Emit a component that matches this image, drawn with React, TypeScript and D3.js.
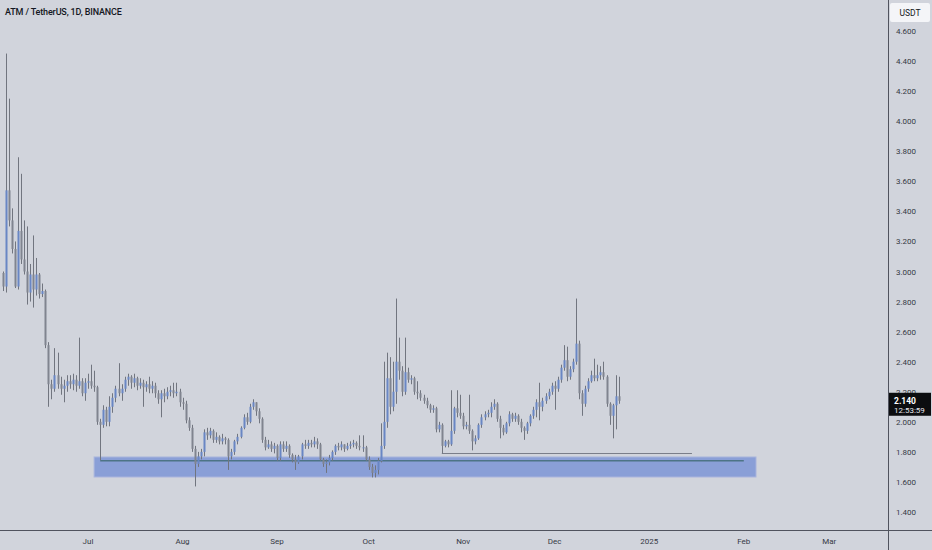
import React, { useEffect, useRef } from 'react';
import * as d3 from 'd3';

// daily candles from 2024-06-03, open = previous close
const startDate = Date.UTC(2024, 5, 3);
const firstOpen = 2.99;

const closes = [
  2.90, 3.54, 3.34, 3.15, 2.90, 3.27, 3.08, 3.00, 2.86, 2.98,
  2.88, 2.98, 2.85, 2.87, 2.51, 2.25, 2.22, 2.31, 2.25, 2.22,
  2.24, 2.27, 2.25, 2.28, 2.24, 2.27, 2.19, 2.26, 2.27, 2.24,
  2.23, 2.00, 1.98, 2.08, 2.00, 2.10, 2.16, 2.22, 2.19, 2.22,
  2.28, 2.30, 2.26, 2.29, 2.24, 2.26, 2.23, 2.25, 2.22, 2.24,
  2.19, 2.15, 2.19, 2.17, 2.20, 2.21, 2.19, 2.20, 2.13, 2.12,
  2.01, 1.96, 1.82, 1.72, 1.77, 1.80, 1.93, 1.91, 1.94, 1.88,
  1.90, 1.87, 1.89, 1.88, 1.77, 1.80, 1.87, 1.90, 1.96, 2.03,
  2.00, 2.10, 2.13, 2.07, 2.02, 1.88, 1.83, 1.85, 1.82, 1.84,
  1.76, 1.85, 1.82, 1.84, 1.78, 1.75, 1.73, 1.77, 1.85, 1.84,
  1.86, 1.85, 1.87, 1.85, 1.75, 1.72, 1.73, 1.76, 1.80, 1.84,
  1.83, 1.85, 1.82, 1.84, 1.85, 1.86, 1.84, 1.83, 1.83, 1.75,
  1.70, 1.66, 1.68, 1.74, 1.84, 2.00, 2.29, 2.10, 2.20, 2.40,
  2.34, 2.20, 2.33, 2.28, 2.29, 2.20, 2.19, 2.16, 2.14, 2.11,
  2.08, 2.09, 1.95, 1.98, 1.84, 1.87, 1.85, 1.94, 2.09, 2.06,
  2.04, 1.97, 1.98, 1.94, 1.87, 1.89, 1.98, 2.03, 2.05, 2.06,
  2.10, 2.12, 2.02, 1.96, 1.93, 1.99, 2.05, 2.02, 2.04, 2.00,
  1.96, 1.94, 1.99, 2.04, 2.08, 2.13, 2.10, 2.14, 2.17, 2.20,
  2.24, 2.22, 2.28, 2.36, 2.41, 2.30, 2.35, 2.40, 2.52, 2.19,
  2.12, 2.22, 2.27, 2.31, 2.29, 2.31, 2.33, 2.30, 2.12, 2.04,
  2.11, 2.17, 2.14,
];

const highs = [
  3.00, 4.45, 4.15, 3.42, 3.20, 3.76, 3.65, 3.34, 3.30, 3.05,
  3.24, 3.09, 2.99, 2.92, 2.88, 2.53, 2.28, 2.49, 2.46, 2.30,
  2.28, 2.31, 2.31, 2.32, 2.31, 2.56, 2.29, 2.29, 2.32, 2.38,
  2.34, 2.24, 2.02, 2.11, 2.10, 2.17, 2.19, 2.24, 2.39, 2.25,
  2.30, 2.32, 2.31, 2.32, 2.30, 2.29, 2.28, 2.27, 2.30, 2.27,
  2.26, 2.21, 2.21, 2.22, 2.23, 2.24, 2.26, 2.26, 2.22, 2.16,
  2.14, 2.03, 1.98, 1.84, 1.80, 1.82, 1.95, 1.96, 1.96, 1.95,
  1.93, 1.91, 1.92, 1.90, 1.89, 1.82, 1.88, 1.92, 1.97, 2.05,
  2.06, 2.12, 2.15, 2.13, 2.09, 2.03, 1.90, 1.88, 1.87, 1.86,
  1.85, 1.87, 1.87, 1.87, 1.85, 1.79, 1.78, 1.78, 1.86, 1.88,
  1.88, 1.88, 1.90, 1.89, 1.86, 1.76, 1.75, 1.78, 1.81, 1.85,
  1.86, 1.87, 1.85, 1.86, 1.87, 1.88, 1.87, 1.91, 1.91, 1.84,
  1.77, 1.72, 1.71, 1.76, 1.99, 2.40, 2.46, 2.43, 2.40, 2.82,
  2.56, 2.37, 2.56, 2.36, 2.31, 2.30, 2.27, 2.21, 2.18, 2.16,
  2.12, 2.11, 2.10, 2.00, 1.99, 1.88, 1.88, 2.21, 2.10, 2.21,
  2.18, 2.06, 2.00, 2.18, 1.95, 1.91, 1.99, 2.05, 2.07, 2.08,
  2.13, 2.15, 2.13, 2.04, 1.98, 2.00, 2.07, 2.06, 2.06, 2.05,
  2.02, 1.97, 2.00, 2.05, 2.10, 2.15, 2.26, 2.16, 2.19, 2.22,
  2.26, 2.27, 2.30, 2.38, 2.51, 2.50, 2.37, 2.42, 2.82, 2.54,
  2.21, 2.24, 2.29, 2.34, 2.42, 2.38, 2.37, 2.40, 2.31, 2.13,
  2.12, 2.31, 2.30,
];

const lows = [
  2.87, 2.86, 3.30, 3.12, 2.89, 2.88, 3.05, 2.98, 2.78, 2.80,
  2.76, 2.84, 2.82, 2.83, 2.49, 2.10, 2.15, 2.20, 2.22, 2.18,
  2.13, 2.20, 2.22, 2.21, 2.20, 2.22, 2.17, 2.14, 2.22, 2.22,
  2.20, 1.98, 1.745, 1.96, 1.97, 1.97, 2.06, 2.13, 2.17, 2.14,
  2.20, 2.24, 2.22, 2.23, 2.21, 2.22, 2.10, 2.20, 2.19, 2.19,
  2.16, 2.12, 2.03, 2.13, 2.15, 2.17, 2.16, 2.17, 2.10, 2.08,
  1.99, 1.94, 1.80, 1.57, 1.70, 1.75, 1.77, 1.88, 1.89, 1.86,
  1.86, 1.85, 1.85, 1.85, 1.68, 1.75, 1.78, 1.85, 1.89, 1.95,
  1.98, 1.99, 2.08, 2.04, 1.99, 1.86, 1.81, 1.82, 1.80, 1.79,
  1.74, 1.74, 1.80, 1.80, 1.76, 1.73, 1.68, 1.72, 1.75, 1.82,
  1.82, 1.83, 1.83, 1.82, 1.74, 1.70, 1.66, 1.71, 1.74, 1.78,
  1.81, 1.81, 1.80, 1.81, 1.82, 1.83, 1.82, 1.81, 1.80, 1.74,
  1.68, 1.63, 1.63, 1.65, 1.73, 1.82, 1.96, 2.05, 2.07, 2.12,
  2.28, 2.17, 2.18, 2.26, 2.25, 2.18, 2.15, 2.14, 2.12, 2.09,
  2.06, 2.06, 1.93, 1.93, 1.79, 1.83, 1.83, 1.84, 1.92, 2.03,
  2.02, 1.95, 1.95, 1.92, 1.81, 1.85, 1.88, 1.96, 2.01, 2.03,
  2.03, 2.08, 2.00, 1.89, 1.91, 1.92, 1.97, 2.00, 2.00, 1.98,
  1.93, 1.88, 1.92, 1.97, 2.02, 2.03, 2.01, 2.07, 2.12, 2.15,
  2.18, 2.08, 2.20, 2.26, 2.34, 2.27, 2.28, 2.33, 2.38, 2.15,
  2.04, 2.10, 2.20, 2.26, 2.27, 2.27, 2.28, 2.28, 2.10, 1.98,
  1.89, 1.95, 2.12,
];

const priceTicks = [1.4, 1.6, 1.8, 2.0, 2.2, 2.4, 2.6, 2.8, 3.0, 3.2, 3.4, 3.6, 3.8, 4.0, 4.2, 4.4, 4.6];
const monthTicks = ['2024-07-01', '2024-08-01', '2024-09-01', '2024-10-01', '2024-11-01', '2024-12-01', '2025-01-01', '2025-02-01', '2025-03-01'];
const monthLabels = ['Jul', 'Aug', 'Sep', 'Oct', 'Nov', 'Dec', '2025', 'Feb', 'Mar'];

// drawings
const zone = { from: '2024-07-03', to: '2025-02-05', low: 1.633, high: 1.766 };
const zoneLine = { from: '2024-07-05', to: '2025-02-01', price: 1.741 };
const lowLine = { from: '2024-10-25', to: '2025-01-15', price: 1.792 };
const lastPrice = 2.14;

const W = 932;
const H = 550;
const plotRight = 888;
const plotBottom = 530;
const font = 'Roboto, "Noto Sans", sans-serif';

const App: React.FC = () => {
  const svgRef = useRef<SVGSVGElement>(null);

  useEffect(() => {
    if (!svgRef.current) return;
    const svg = d3.select(svgRef.current);
    svg.selectAll('*').remove();

    const day = 86400000;
    const candles = closes.map((c, i) => {
      const open = i === 0 ? firstOpen : closes[i - 1];
      return {
        date: new Date(startDate + i * day),
        open,
        close: c,
        high: Math.max(highs[i], open, c),
        low: Math.min(lows[i], open, c),
      };
    });

    const x = d3
      .scaleUtc()
      .domain([new Date(startDate), new Date(Date.UTC(2025, 2, 1))])
      .range([2.6, 829.2]);
    const y = d3.scaleLinear().domain([1.4, 4.6]).range([512, 31]);
    const d = (s: string) => new Date(s + 'T00:00:00Z');

    svg.append('rect').attr('width', W).attr('height', H).attr('fill', '#d1d4dc');

    // zone
    svg
      .append('rect')
      .attr('x', x(d(zone.from)))
      .attr('y', y(zone.high))
      .attr('width', x(d(zone.to)) - x(d(zone.from)))
      .attr('height', y(zone.low) - y(zone.high))
      .attr('fill', '#8a9fd7')
      .attr('stroke', '#a9b5dd')
      .attr('stroke-width', 1);

    svg
      .append('line')
      .attr('x1', x(d(zoneLine.from)))
      .attr('x2', x(d(zoneLine.to)))
      .attr('y1', y(zoneLine.price))
      .attr('y2', y(zoneLine.price))
      .attr('stroke', '#4d7486')
      .attr('stroke-width', 1.5);

    svg
      .append('line')
      .attr('x1', x(d(lowLine.from)))
      .attr('x2', x(d(lowLine.to)))
      .attr('y1', Math.round(y(lowLine.price)) + 0.5)
      .attr('y2', Math.round(y(lowLine.price)) + 0.5)
      .attr('stroke', '#7a7e89')
      .attr('stroke-width', 1);

    // candles
    const g = svg.append('g');
    g.selectAll('.wick')
      .data(candles)
      .join('line')
      .attr('x1', (c) => Math.round(x(c.date)) + 0.5)
      .attr('x2', (c) => Math.round(x(c.date)) + 0.5)
      .attr('y1', (c) => y(c.high))
      .attr('y2', (c) => y(c.low))
      .attr('stroke', '#71757f')
      .attr('stroke-width', 1);

    g.selectAll('.body')
      .data(candles)
      .join('rect')
      .attr('x', (c) => Math.round(x(c.date)) - 0.5)
      .attr('y', (c) => y(Math.max(c.open, c.close)))
      .attr('width', 2)
      .attr('height', (c) => Math.max(1, Math.abs(y(c.open) - y(c.close))))
      .attr('fill', (c) => (c.close >= c.open ? '#6986c4' : '#80848f'));

    // axes frame
    svg.append('line').attr('x1', plotRight + 0.5).attr('x2', plotRight + 0.5).attr('y1', 0).attr('y2', H).attr('stroke', '#50535e');
    svg.append('line').attr('x1', 0).attr('x2', W).attr('y1', plotBottom + 0.5).attr('y2', plotBottom + 0.5).attr('stroke', '#50535e');

    svg
      .append('g')
      .selectAll('text')
      .data(priceTicks)
      .join('text')
      .attr('x', 896)
      .attr('y', (p) => y(p) + 3)
      .attr('font-family', font)
      .attr('font-size', 8)
      .attr('fill', '#363a45')
      .text((p) => d3.format('.3f')(p));

    svg
      .append('g')
      .selectAll('text')
      .data(monthTicks)
      .join('text')
      .attr('x', (m) => x(d(m)))
      .attr('y', 544)
      .attr('text-anchor', 'middle')
      .attr('font-family', font)
      .attr('font-size', 8)
      .attr('fill', '#363a45')
      .text((_, i) => monthLabels[i]);

    // USDT badge
    svg.append('rect').attr('x', 890).attr('y', 3).attr('width', 40).attr('height', 19).attr('rx', 2).attr('fill', '#f4f5f8');
    svg
      .append('text')
      .attr('x', 910)
      .attr('y', 15.5)
      .attr('text-anchor', 'middle')
      .attr('font-family', font)
      .attr('font-size', 8.5)
      .attr('fill', '#131722')
      .text('USDT');

    // last price label
    const ly = y(lastPrice);
    svg.append('rect').attr('x', 889).attr('y', ly - 8).attr('width', 42).attr('height', 23).attr('fill', '#0c0d10');
    svg
      .append('text')
      .attr('x', 894)
      .attr('y', ly + 3)
      .attr('font-family', font)
      .attr('font-size', 8.5)
      .attr('font-weight', 700)
      .attr('fill', '#ffffff')
      .text(d3.format('.3f')(lastPrice));
    svg
      .append('text')
      .attr('x', 894)
      .attr('y', ly + 12)
      .attr('font-family', font)
      .attr('font-size', 8)
      .attr('fill', '#e8e8ec')
      .text('12:53:59');

    // title
    svg
      .append('text')
      .attr('x', 5)
      .attr('y', 15)
      .attr('font-family', font)
      .attr('font-size', 9)
      .attr('font-weight', 500)
      .attr('letter-spacing', -0.15)
      .attr('fill', '#131722')
      .text('ATM / TetherUS, 1D, BINANCE');
  }, []);

  return (
    <svg
      ref={svgRef}
      width={W}
      height={H}
      style={{ position: 'absolute', left: 0, top: 0, display: 'block' }}
    />
  );
};

export default App;
